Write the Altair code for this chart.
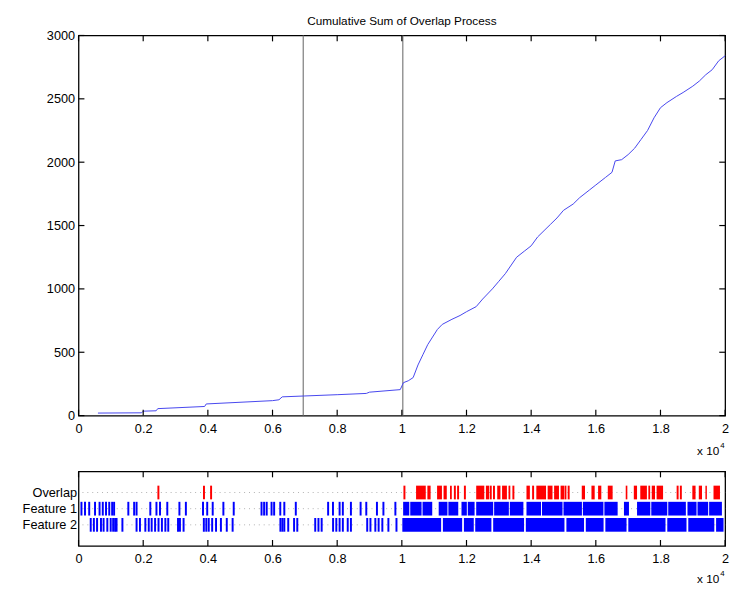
import altair as alt
import pandas as pd

# ---------------- data ----------------
cum_x = [600, 1950, 2000, 2400, 2450, 3900, 3950, 6000, 6200, 6300, 7000, 8000, 8900, 9000,
         9950, 10050, 10200, 10350, 10500, 10650, 10800, 10950, 11100, 11250, 11550, 11800,
         12000, 12300, 12500, 12800, 13000, 13200, 13550, 13800, 14000, 14200, 14400, 14600,
         14800, 15000, 15300, 15500, 15800, 16000, 16300, 16500, 16600, 16800, 17000, 17200,
         17400, 17600, 17800, 18000, 18200, 18500, 18700, 19000, 19200, 19400, 19600, 19800, 20000]
cum_y = [20, 22, 35, 38, 55, 72, 92, 118, 125, 148, 155, 165, 175, 185,
         205, 260, 275, 300, 400, 480, 560, 620, 680, 720, 760, 790,
         820, 860, 920, 1000, 1060, 1120, 1250, 1300, 1340, 1410, 1460, 1510,
         1560, 1620, 1670, 1720, 1780, 1820, 1880, 1920, 2010, 2020, 2060, 2110,
         2180, 2250, 2350, 2430, 2470, 2520, 2550, 2600, 2640, 2690, 2730, 2800, 2840]
marker_x = [6950, 10030]
x_tick_values = [0, 2000, 4000, 6000, 8000, 10000, 12000, 14000, 16000, 18000, 20000]
y_tick_values = [0, 500, 1000, 1500, 2000, 2500, 3000]
row_names = ["Overlap", "Feature 1", "Feature 2"]

overlap_single = [2470, 3880, 4100, 10080, 11640, 11740, 11950, 12750, 12850, 13450,
                  14060, 15060, 15160, 18530, 18630]
overlap_blk_start = [10440, 10790, 11090, 11290, 11490, 12300, 12600, 12950, 13100, 13300,
                     13855, 14160, 14510, 14710, 14910, 15565, 15865, 16070, 16370, 16925,
                     17175, 17375, 17625, 17730, 17880, 18985, 19185, 19390, 19640]
overlap_blk_end = [10740, 10890, 11240, 11390, 11545, 12550, 12700, 13050, 13250, 13355,
                   13960, 14460, 14660, 14860, 15015, 15665, 15965, 16170, 16520, 16975,
                   17275, 17580, 17680, 17830, 18080, 19085, 19285, 19435, 19840]

f1_single = [90, 200, 330, 510, 650, 750, 850, 950, 1040, 1100, 1540, 1720, 1795, 2220,
             2410, 2520, 2745, 3120, 3320, 3850, 3980, 4150, 4480, 4800, 5660, 5740, 5820,
             5970, 6050, 6240, 6365, 6720, 7720, 7870, 8075, 8175, 8425, 8725, 8900, 9230,
             9430, 9800]
f1_blk_start = [10040, 10260, 10640, 11140, 11440, 11845, 12040, 12300, 12855, 13340,
                13855, 14335, 15000, 15600, 16265, 16870, 17275, 17715, 18240, 18835,
                19145, 19505]
f1_blk_end = [10230, 10610, 10940, 11410, 11745, 12010, 12250, 12825, 13310, 13760,
              14305, 14970, 15570, 16235, 16675, 17025, 17685, 18210, 18785, 19115,
              19475, 19900]

f2_single = [377, 474, 573, 694, 775, 890, 995, 1071, 1131, 1176, 1357, 1795, 1900, 2066,
             2172, 2262, 2368, 2474, 2579, 2685, 2775, 3077, 3137, 3249, 3876, 3952, 4027,
             4133, 4253, 4404, 4585, 4766, 6244, 6305, 6365, 6486, 6667, 6766, 7321, 7421,
             7520, 7873, 7973, 8075, 8175, 8326, 8425, 8929, 9029, 9180, 9282, 9397, 9584,
             9834]
f2_blk_start = [10015, 11270, 11920, 12270, 12825, 13835, 15090, 15690, 16295, 17005,
                18210, 18860, 19720]
f2_blk_end = [11215, 11865, 12225, 12770, 13780, 15030, 15635, 16240, 16950, 18155,
              18805, 19665, 19950]

# ---------------- tables ----------------
W, H1, H2 = 660, 388, 76
FONT = "Liberation Sans"

line_df = pd.DataFrame({"x": cum_x, "y": cum_y})
marker_df = pd.DataFrame({"x": marker_x})
xt_df = pd.DataFrame({"v": x_tick_values})
yt_df = pd.DataFrame({"v": y_tick_values})

singles = []
for r, (kind, lst) in enumerate([("Overlap", overlap_single), ("Feature", f1_single),
                                   ("Feature", f2_single)], start=1):
    for v in lst:
        singles.append({"x": v, "row": r, "kind": kind})
singles_df = pd.DataFrame(singles)

blocks = []
for r, (kind, s_l, e_l) in enumerate([("Overlap", overlap_blk_start, overlap_blk_end),
                                       ("Feature", f1_blk_start, f1_blk_end),
                                       ("Feature", f2_blk_start, f2_blk_end)], start=1):
    for s, e in zip(s_l, e_l):
        blocks.append({"x": s, "x2": e, "row": r, "kind": kind})
blocks_df = pd.DataFrame(blocks)
rows_df = pd.DataFrame({"row": [1, 2, 3]})

xs = alt.Scale(domain=[0, 20000], nice=False, zero=False)
x_axis = alt.Axis(values=x_tick_values, labelExpr="datum.value / 10000", title=None,
                  ticks=False, domain=False, grid=False, labelPadding=7, labelFlush=False)
y_axis = alt.Axis(values=y_tick_values, format="d", title=None, ticks=False, domain=False,
                  grid=False, labelPadding=4)
ys1 = alt.Scale(domain=[0, 3000], nice=False)
color_scale = alt.Scale(domain=["Overlap", "Feature"], range=["#ff0000", "#0000ff"])

# ---------------- top panel ----------------
line = alt.Chart(line_df).mark_line(color="#4444ee", strokeWidth=1).encode(
    x=alt.X("x:Q", scale=xs, axis=x_axis),
    y=alt.Y("y:Q", scale=ys1, axis=y_axis),
)
markers = alt.Chart(marker_df).mark_rule(color="#7a7a7a", strokeWidth=1.2).encode(
    x=alt.X("x:Q", scale=xs, axis=x_axis)
)
tb = alt.Chart(xt_df).mark_rule(color="black", strokeWidth=1.2).encode(
    x=alt.X("v:Q", scale=xs, axis=x_axis), y=alt.value(H1), y2=alt.value(H1 - 6))
tt = alt.Chart(xt_df).mark_rule(color="black", strokeWidth=1.2).encode(
    x=alt.X("v:Q", scale=xs, axis=x_axis), y=alt.value(0), y2=alt.value(6))
tl = alt.Chart(yt_df).mark_rule(color="black", strokeWidth=1.2).encode(
    y=alt.Y("v:Q", scale=ys1, axis=y_axis), x=alt.value(0), x2=alt.value(6))
tr = alt.Chart(yt_df).mark_rule(color="black", strokeWidth=1.2).encode(
    y=alt.Y("v:Q", scale=ys1, axis=y_axis), x=alt.value(W), x2=alt.value(W - 6))

def exp_label(dy):
    base = alt.Chart(pd.DataFrame({"t": ["x 10"]})).mark_text(
        font=FONT, fontSize=12, align="right", baseline="middle", color="black").encode(
        text="t:N", x=alt.value(W - 6), y=alt.value(dy))
    sup = alt.Chart(pd.DataFrame({"t": ["4"]})).mark_text(
        font=FONT, fontSize=8, align="left", baseline="middle", color="black").encode(
        text="t:N", x=alt.value(W - 5), y=alt.value(dy - 5))
    return base + sup

top = alt.layer(markers, line, tb, tt, tl, tr, exp_label(H1 + 36)).properties(
    width=W, height=H1,
    title=alt.TitleParams("Cumulative Sum of Overlap Process", font=FONT, fontSize=12,
                          fontWeight="normal", anchor="middle", offset=2, color="black"),
)

# ---------------- bottom panel ----------------
ys2 = alt.Scale(domain=[0, 4], reverse=True, nice=False, zero=False)
lab_expr = " : ".join(f"datum.value == {i + 1} ? '{n}'" for i, n in enumerate(row_names[:-1]))
lab_expr += f" : '{row_names[-1]}'"
y_axis2 = alt.Axis(values=[1, 2, 3], labelExpr=lab_expr, title=None, ticks=False,
                   domain=False, grid=False, labelPadding=2, labelFontSize=13)

base_rows = alt.Chart(rows_df).mark_rule(color="#b0b0b0", strokeWidth=1,
                                          strokeDash=[1, 4]).encode(
    y=alt.Y("row:Q", scale=ys2, axis=y_axis2))
blk = alt.Chart(blocks_df).mark_bar(size=14, orient="horizontal").encode(
    x=alt.X("x:Q", scale=xs, axis=x_axis), x2="x2:Q",
    y=alt.Y("row:Q", scale=ys2, axis=y_axis2),
    color=alt.Color("kind:N", scale=color_scale, legend=None))
sgl = alt.Chart(singles_df).mark_tick(size=14, thickness=2, orient="vertical",
                                      opacity=1).encode(
    x=alt.X("x:Q", scale=xs, axis=x_axis),
    y=alt.Y("row:Q", scale=ys2, axis=y_axis2),
    color=alt.Color("kind:N", scale=color_scale, legend=None))
bb = alt.Chart(xt_df).mark_rule(color="black", strokeWidth=1.2).encode(
    x=alt.X("v:Q", scale=xs, axis=x_axis), y=alt.value(H2), y2=alt.value(H2 - 6))
bt = alt.Chart(xt_df).mark_rule(color="black", strokeWidth=1.2).encode(
    x=alt.X("v:Q", scale=xs, axis=x_axis), y=alt.value(0), y2=alt.value(6))

bottom = alt.layer(base_rows, blk, sgl, bb, bt, exp_label(H2 + 34)).properties(
    width=W, height=H2)

chart = alt.vconcat(top, bottom, spacing=12).properties(
    padding={"left": 13, "top": 0, "right": 2, "bottom": 0}
).configure_view(stroke="black", strokeWidth=1.3).configure_axis(
    labelFont=FONT, labelFontSize=13, labelColor="black"
).configure_concat(spacing=12)

chart.save("out.html", embed_options={"renderer": "svg", "actions": False})
